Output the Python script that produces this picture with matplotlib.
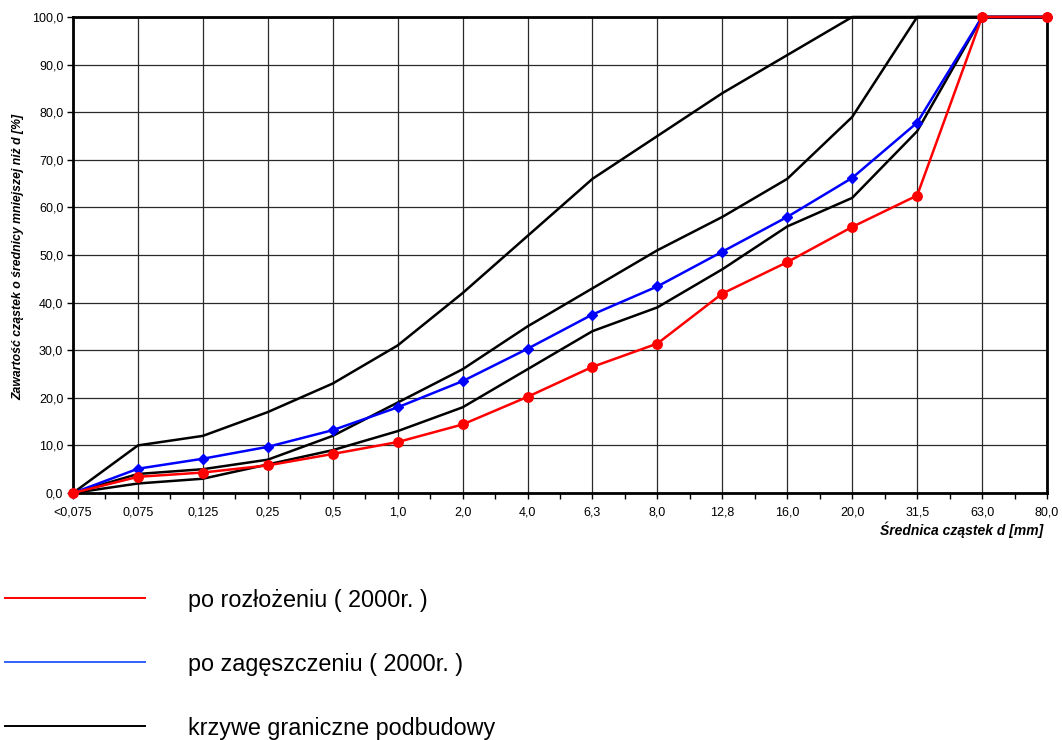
import numpy as np
import matplotlib
matplotlib.use("Agg")
import matplotlib.pyplot as plt
from matplotlib.lines import Line2D

plt.rcParams['font.family'] = ['Liberation Sans', 'DejaVu Sans']

# sieve sizes (category axis)
sita = ['<0,075', '0,075', '0,125', '0,25', '0,5', '1,0', '2,0', '4,0',
        '6,3', '8,0', '12,8', '16,0', '20,0', '31,5', '63,0', '80,0']

# grading curves [%]
po_rozlozeniu = [0.0, 3.4, 4.3, 5.8, 8.2, 10.7, 14.4, 20.2, 26.5, 31.4,
                 41.9, 48.5, 55.9, 62.5, 100.0, 100.0]
po_zageszczeniu = [0.0, 5.1, 7.2, 9.7, 13.2, 18.0, 23.5, 30.3, 37.5, 43.4,
                   50.7, 58.0, 66.2, 77.8, 100.0, 100.0]

# boundary curves of the base course
granica_1 = [0, 10, 12, 17, 23, 31, 42, 54, 66, 75, 84, 92, 100, 100, 100, 100]
granica_2 = [0, 4, 5, 7, 12, 19, 26, 35, 43, 51, 58, 66, 79, 100, 100, 100]
granica_3 = [0, 2, 3, 6, 9, 13, 18, 26, 34, 39, 47, 56, 62, 76, 100, 100]

x = np.arange(len(sita))

fig = plt.figure(figsize=(10.62, 7.4), dpi=100)
ax = fig.add_axes([73/1062, 1 - 493/740, (1047-73)/1062, (493-17)/740])

for g in (granica_1, granica_2, granica_3):
    ax.plot(x, g, color='black', lw=1.8, zorder=3, clip_on=False)
ax.plot(x, po_zageszczeniu, color='#0000ff', lw=1.8, marker='D', ms=5,
        zorder=4, clip_on=False)
ax.plot(x, po_rozlozeniu, color='#ff0000', lw=1.8, marker='o', ms=6.8,
        zorder=5, clip_on=False)

ax.set_xlim(0, len(sita) - 1)
ax.set_ylim(0, 100)
ax.set_xticks(x)
ax.set_xticklabels(sita, fontsize=9)
ax.set_xticks(x[:-1] + 0.5, minor=True)
ax.set_yticks(np.arange(0, 101, 10))
ax.set_yticklabels([f'{v:.1f}'.replace('.', ',') for v in range(0, 101, 10)],
                   fontsize=9)
ax.tick_params(axis='both', which='both', direction='out', length=4,
               width=1, pad=3, colors='black')
ax.tick_params(axis='x', which='major', pad=6)
ax.grid(True, which='major', color='#2a2a2a', lw=0.9)
for s in ax.spines.values():
    s.set_linewidth(2)
    s.set_color('black')

fig.text(18/1062, 1 - 257/740,
         'Zawartość cząstek o średnicy mniejszej niż d [%]',
         fontsize=8.8, fontweight='bold', fontstyle='italic',
         rotation=90, ha='center', va='center')
fig.text(1043/1062, 1 - 530/740, 'Średnica cząstek d [mm]', fontsize=10,
         fontweight='bold', fontstyle='italic', ha='right', va='center')

# legend drawn below the chart
legenda = [('#ff0000', 'po rozłożeniu ( 2000r. )', 598),
           ('#3060ff', 'po zagęszczeniu ( 2000r. )', 662),
           ('black', 'krzywe graniczne podbudowy', 726)]
for kolor, opis, yp in legenda:
    yf = 1 - yp / 740
    fig.add_artist(Line2D([5/1062, 145/1062], [yf, yf], color=kolor, lw=1.4))
    fig.text(188/1062, 1 - (yp + 3) / 740, opis, fontsize=16.8,
             ha='left', va='center')

fig.savefig('out.png', dpi=100)
